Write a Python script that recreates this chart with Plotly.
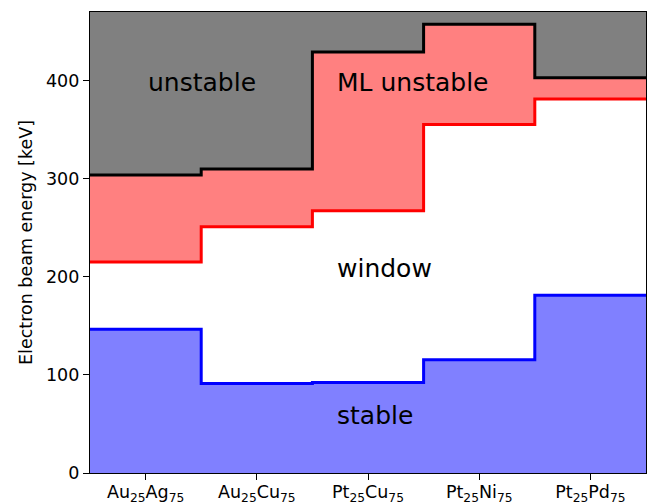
import plotly.graph_objects as go

categories = ["Au<sub>25</sub>Ag<sub>75</sub>", "Au<sub>25</sub>Cu<sub>75</sub>",
              "Pt<sub>25</sub>Cu<sub>75</sub>", "Pt<sub>25</sub>Ni<sub>75</sub>",
              "Pt<sub>25</sub>Pd<sub>75</sub>"]
tick_pos = [0, 1, 2, 3, 4]
edges = [-0.5, 0.5, 1.5, 2.5, 3.5, 4.5]
stable_limit = [146.6, 91.2, 92.3, 115.4, 181.3]      # blue
window_limit = [215.2, 251.1, 267.4, 355.4, 381.2]    # red
unstable_limit = [303.8, 309.9, 429.3, 457.5, 402.9]  # black
y_max = 470

label_text = ["unstable", "ML unstable", "window", "stable"]
label_x = [0, 1.7, 1.7, 1.7]
label_y = [390, 390, 200, 50]

def stepy(v):
    return list(v) + [v[-1]]

FONT = "DejaVu Sans"
fig = go.Figure()
# fills
fig.add_trace(go.Scatter(x=edges, y=[0] * len(edges), mode="lines", line=dict(width=0, shape="hv"),
                         showlegend=False, hoverinfo="skip"))
fig.add_trace(go.Scatter(x=edges, y=stepy(stable_limit), mode="lines", line=dict(width=0, shape="hv"),
                         fill="tonexty", fillcolor="#8080ff", showlegend=False, hoverinfo="skip"))
fig.add_trace(go.Scatter(x=edges, y=stepy(window_limit), mode="lines", line=dict(width=0, shape="hv"),
                         fill="tonexty", fillcolor="#ffffff", showlegend=False, hoverinfo="skip"))
fig.add_trace(go.Scatter(x=edges, y=stepy(unstable_limit), mode="lines", line=dict(width=0, shape="hv"),
                         fill="tonexty", fillcolor="#ff8080", showlegend=False, hoverinfo="skip"))
# lines
for vals, col in [(stable_limit, "#0000ff"), (window_limit, "#ff0000"), (unstable_limit, "#000000")]:
    fig.add_trace(go.Scatter(x=edges, y=stepy(vals), mode="lines",
                             line=dict(width=3, shape="hv", color=col), showlegend=False))

for t, x, y in zip(label_text, label_x, label_y):
    fig.add_annotation(x=x, y=y, text=t, showarrow=False, xanchor="left", yanchor="middle", yshift=8,
                       font=dict(family=FONT, size=25, color="black"))

fig.update_layout(
    width=649, height=504,
    margin=dict(l=89.5, r=3, t=12, b=31, pad=0),
    paper_bgcolor="white", plot_bgcolor="#808080",
    font=dict(family=FONT, size=17.5, color="black"),
)
fig.update_xaxes(range=[edges[0], edges[-1]], tickvals=tick_pos, ticktext=categories, automargin=False,
                 showgrid=False, zeroline=False, showline=True, mirror=True, linecolor="black", linewidth=1.2,
                 ticks="outside", ticklen=6, tickcolor="black", tickfont=dict(size=17.5),
                 ticklabelstandoff=-3)
fig.update_yaxes(range=[0, y_max], tickvals=[0, 100, 200, 300, 400], automargin=False,
                 showgrid=False, zeroline=False, showline=True, mirror=True, linecolor="black", linewidth=1.2,
                 ticks="outside", ticklen=6, tickcolor="black", tickfont=dict(size=17.5),
                 title=dict(text="Electron beam energy [keV]", font=dict(size=17.5), standoff=8))
fig.write_html("out.html", config={"displayModeBar": False},
               post_script="document.body.style.margin='0';document.body.style.overflow='hidden';")
